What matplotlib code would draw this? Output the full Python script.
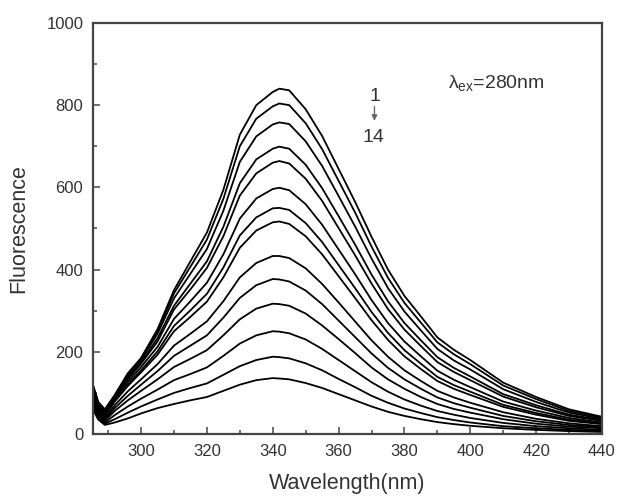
import numpy as np
import matplotlib.pyplot as plt
from matplotlib.ticker import MultipleLocator

plt.rcParams['font.family'] = ['Liberation Sans', 'DejaVu Sans']

# Emission wavelengths (nm)
wl = [285, 287, 289, 292, 296, 300, 305, 310, 315, 320, 325, 330, 335, 340, 342, 345,
      350, 355, 360, 365, 370, 375, 380, 385, 390, 395, 400, 410, 420, 430, 440]

# Fluorescence intensity, spectra 1 -> 14
c1 = [130, 78, 60, 95, 148, 185, 255, 350, 420, 490, 594, 728, 800, 832, 840, 836,
      790, 725, 645, 565, 480, 400, 336, 286, 235, 205, 180, 125, 90, 60, 42]
c2 = [127, 76, 58, 94, 143, 183, 250, 342, 407, 473, 572, 700, 767, 797, 804, 800,
      756, 693, 616, 539, 456, 380, 319, 271, 223, 194, 170, 118, 85, 56, 40]
c3 = [123, 73, 56, 93, 140, 180, 244, 330, 390, 450, 543, 662, 724, 753, 758, 754,
      712, 652, 579, 505, 427, 355, 298, 252, 207, 179, 157, 109, 78, 52, 37]
c4 = [117, 69, 52, 91, 136, 175, 233, 312, 366, 420, 504, 610, 668, 694, 699, 694,
      655, 598, 530, 461, 388, 323, 270, 228, 187, 161, 140, 97, 70, 47, 34]
c5 = [114, 67, 51, 89, 133, 171, 225, 303, 352, 404, 481, 580, 634, 660, 664, 658,
      621, 567, 501, 435, 366, 304, 254, 214, 175, 151, 131, 91, 65, 44, 32]
c6 = [108, 63, 47, 85, 127, 163, 212, 280, 323, 368, 437, 524, 573, 596, 599, 593,
      559, 509, 449, 389, 326, 270, 225, 189, 154, 132, 114, 79, 57, 39, 28]
c7 = [103, 60, 44, 81, 121, 155, 201, 263, 301, 341, 405, 483, 527, 549, 550, 545,
      513, 467, 411, 355, 297, 246, 204, 171, 139, 119, 103, 71, 51, 35, 25]
c8 = [100, 58, 43, 79, 117, 150, 193, 250, 285, 322, 381, 453, 495, 515, 517, 511,
      481, 437, 384, 331, 277, 229, 189, 158, 129, 110, 95, 66, 47, 32, 24]
c9 = [93, 53, 38, 70, 104, 133, 170, 215, 244, 274, 323, 381, 416, 433, 433, 428,
      403, 365, 320, 274, 228, 188, 155, 129, 105, 89, 76, 53, 37, 26, 19]
c10 = [87, 50, 35, 63, 93, 120, 153, 190, 215, 240, 283, 331, 362, 377, 376, 371,
       349, 316, 276, 236, 196, 161, 133, 110, 89, 75, 64, 44, 31, 22, 16]
c11 = [82, 46, 32, 56, 82, 105, 133, 163, 183, 204, 240, 279, 305, 317, 316, 312,
       293, 264, 231, 197, 162, 133, 110, 90, 73, 61, 52, 36, 25, 18, 14]
c12 = [76, 42, 28, 46, 67, 86, 108, 131, 146, 162, 190, 220, 240, 250, 249, 245,
       230, 207, 180, 153, 126, 103, 84, 69, 56, 47, 39, 27, 19, 14, 10]
c13 = [70, 38, 25, 36, 52, 67, 84, 100, 112, 123, 144, 165, 180, 188, 187, 184,
       172, 155, 134, 114, 93, 76, 62, 51, 41, 34, 28, 19, 14, 10, 8]
c14 = [65, 35, 22, 28, 38, 50, 63, 73, 82, 90, 105, 120, 131, 136, 135, 133,
       124, 112, 97, 82, 67, 54, 44, 36, 29, 24, 20, 14, 10, 7, 5]
spectra = [c1, c2, c3, c4, c5, c6, c7, c8, c9, c10, c11, c12, c13, c14]

fig = plt.figure(figsize=(6.18, 4.98), dpi=100)
ax = fig.add_axes([0.1505, 0.1285, 0.8235, 0.8255])

for s in spectra:
    ax.plot(wl, s, color='black', lw=1.3)

ax.set_xlim(285.4, 440)
ax.set_ylim(0, 1000)
ax.xaxis.set_major_locator(MultipleLocator(20))
ax.xaxis.set_minor_locator(MultipleLocator(10))
ax.yaxis.set_major_locator(MultipleLocator(200))
ax.yaxis.set_minor_locator(MultipleLocator(100))
ax.set_xticks(np.arange(300, 441, 20))
ax.tick_params(which='both', direction='in', top=False, right=False,
               colors='#555555', labelcolor='#333333', labelsize=12, pad=7)
ax.tick_params(which='major', length=5, width=1.2)
ax.tick_params(which='minor', length=3, width=1.2)
for sp in ax.spines.values():
    sp.set_color('#444444')
    sp.set_linewidth(1.6)

ax.set_xlabel('Wavelength(nm)', fontsize=15.5, color='#333333', labelpad=10)
ax.set_ylabel('Fluorescence', fontsize=15.5, color='#333333', labelpad=12)

ax.text(0.697, 0.855, r'$\mathregular{\lambda_{ex}}$=280nm', transform=ax.transAxes,
        fontsize=14, color='#333333', ha='left', va='center')
ax.text(0.553, 0.822, '1', transform=ax.transAxes, fontsize=14,
        color='#333333', ha='center', va='center')
ax.annotate('', xy=(0.553, 0.755), xytext=(0.553, 0.803), xycoords='axes fraction',
            arrowprops=dict(arrowstyle='-|>', color='#666666', lw=1, mutation_scale=8))
ax.text(0.551, 0.722, '14', transform=ax.transAxes, fontsize=14,
        color='#333333', ha='center', va='center')

fig.savefig('out.png', dpi=100)
